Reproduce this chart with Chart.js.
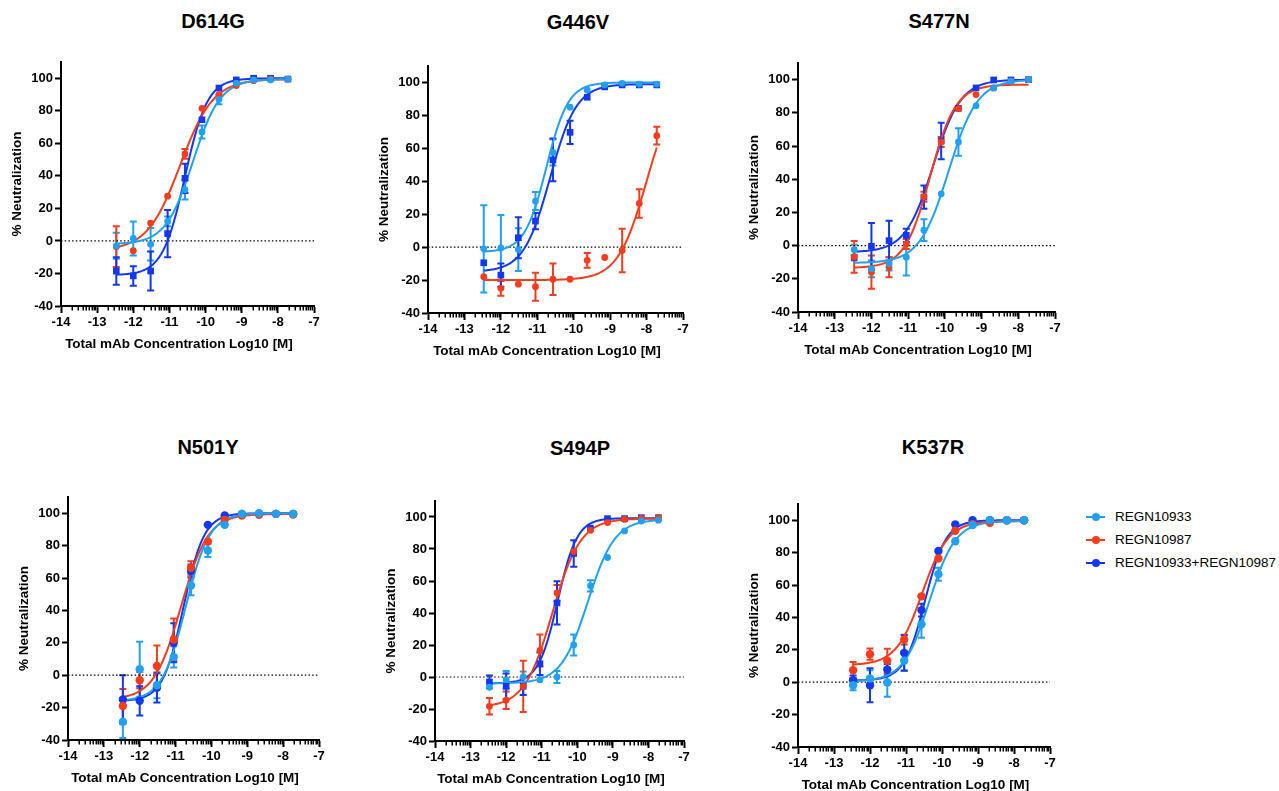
<!DOCTYPE html>
<html>
<head>
<meta charset="utf-8">
<script src="https://cdn.jsdelivr.net/npm/chart.js@4.4.1/dist/chart.umd.min.js"></script>
<style>
  body { margin:0; background:#fff; width:1279px; height:791px; position:relative; overflow:hidden;
         font-family:"Liberation Sans", Arial, sans-serif; color:#000; }
  canvas { position:absolute; }
  .ttl { position:absolute; font-weight:bold; font-size:20px; transform:translate(-50%,-50%); white-space:nowrap; }
  .xttl { position:absolute; font-weight:bold; font-size:13.5px; transform:translate(-50%,-50%); white-space:nowrap; }
  .legend { position:absolute; left:1086px; top:505px; font-size:13.5px; }
  .legend .row { height:23px; position:relative; padding-left:29px; line-height:23px; white-space:nowrap; }
  .legend .ln { position:absolute; left:0; top:11px; width:19px; height:2px; }
  .legend .dt { position:absolute; left:6px; top:8px; width:8px; height:8px; border-radius:50%; }
</style>
</head>
<body>
<script>
// log10 of molar concentration (3-fold dilutions)
const doses = [-12.47, -12.0, -11.52, -11.05, -10.57, -10.1, -9.63, -9.15, -8.67, -8.2, -7.72];
const xTicks = [-14, -13, -12, -11, -10, -9, -8, -7];
const yTicks = [-40, -20, 0, 20, 40, 60, 80, 100];
const variants = ["D614G", "G446V", "S477N", "N501Y", "S494P", "K537R"];
const seriesNames = ["REGN10933", "REGN10987", "REGN10933+REGN10987"];

// % neutralization, one row per variant
const regn10933 = [
  [-3, 1.5, -2, 12, 31.5, 67, 87, 97, 99, 99, 99.5],
  [-1, -0.5, -1.5, 28, 57.5, 85, 95.5, 98.5, 99.5, 99, 99],
  [-2.5, -14, -11, -7, 9.3, 31.2, 62.4, 84.2, 95, 99, 100],
  [-28.7, 3.7, -6.2, 11.3, 55.4, 77, 92.8, 99.6, 100, 99.6, 99.6],
  [-6.4, -1.7, 0, -1.7, 0, 20, 57, 74.7, 91.3, 97.5, 98],
  [-1.9, 2.3, -0.2, 13.2, 35.8, 66.7, 87, 97, 100, 100, 100]
];
const regn10933Sem = [
  [8, 10.5, 10, 3, 6, 4, 3, 1, 1, 1, 0.5],
  [26.5, 20, 13, 5.5, 8, 1, 1, 0.5, 0.5, 0.5, 0.5],
  [3, 5, 4, 11, 6.5, 1, 8.3, 1, 1, 0.5, 0.5],
  [10, 17, 8, 6.5, 6, 4, 1, 0.5, 0.5, 0.5, 0.5],
  [1, 5.5, 3.5, 2, 3.7, 6.5, 3.5, 0.5, 0.5, 0.5, 0.5],
  [3, 5, 8.8, 6, 8.4, 4, 1, 0.5, 0.5, 0.5, 0.5]
];
const regn10987 = [
  [-3.5, -6, 11, 27.5, 53.5, 81.5, 90, 95.5, 98.5, 99.5, 99.5],
  [-18, -25, -22.5, -24, -19.5, -19.5, -8, -6.3, -2, 26.5, 67.7],
  [-6.8, -16, -13, 1, 29.4, 62.4, 82.5, 91, 95, 99, 100],
  [-19, -3.1, 5.7, 22, 66.3, 82.5, 95.9, 98.6, 99, 99.6, 99.2],
  [-18.3, -14.5, -5.8, 16.6, 52.5, 78.4, 91.7, 96.5, 98.5, 99.2, 99.6],
  [7.4, 17.3, 13.2, 26.3, 53, 76.4, 93.5, 97.6, 98.4, 100, 100]
];
const regn10987Sem = [
  [12.5, 2, 1, 1, 3, 1, 1, 1, 0.5, 0.5, 0.5],
  [0.5, 4.5, 0.5, 8.5, 9.5, 0.5, 4.5, 0.5, 13.2, 8.7, 5.4],
  [9.5, 10, 6, 3, 3, 3, 1, 1, 1, 0.5, 0.5],
  [10.5, 5, 12.7, 13, 4, 1, 1, 0.5, 0.5, 0.5, 0.5],
  [5.2, 5.5, 16, 10, 5, 1, 1, 0.5, 0.5, 0.5, 0.5],
  [5, 3.5, 7.5, 3, 1, 1, 1, 0.5, 0.5, 0.5, 0.5]
];
const combo = [
  [-18.5, -21.5, -18.5, 4.5, 38.5, 74.5, 94, 99, 100, 100, 99.5],
  [-9.5, -17, 5.7, 15.8, 53, 69.7, 91, 97.3, 98.5, 98.5, 98.5],
  [-7.4, -0.4, 3, 6.2, 29.2, 63, 82.7, 95, 99.8, 99.8, 100],
  [-15, -15.8, -7.8, 20, 64.3, 92.8, 98.6, 99.6, 99.6, 99.6, 99.6],
  [-3.1, -5.8, -5.8, 8.3, 46.3, 77.2, 93, 99, 99, 99.6, 99.6],
  [1.2, -1.9, 7.8, 18, 44.5, 81, 97.4, 100, 100, 100, 100]
];
const comboSem = [
  [8.5, 6, 12, 14.5, 9, 3, 1, 0.5, 0.5, 0.5, 0.5],
  [2.5, 7, 12.5, 5, 13, 7, 3, 1, 0.5, 0.5, 0.5],
  [1, 14, 12, 4, 7, 11, 1, 1, 0.5, 0.5, 0.5],
  [15, 9, 9, 12, 4, 1, 0.5, 0.5, 0.5, 0.5, 0.5],
  [4, 8, 5.5, 7, 13.5, 8.3, 1, 0.5, 0.5, 0.5, 0.5],
  [3, 10.5, 3.5, 11, 4, 1, 0.5, 0.5, 0.5, 0.5, 0.5]
];

// fitted curves: [bottom, top, logIC50, hill slope]
const regn10933Fit = [
  [-2, 99.5, -10.35, 1.15], [-3, 100, -10.75, 1.45], [-10.5, 100, -9.9, 1.1],
  [-16, 100, -10.72, 1.3], [-4, 98.5, -9.7, 1.15], [0.5, 99.5, -10.35, 1.2]
];
const regn10987Fit = [
  [-6, 99.5, -10.7, 0.95], [-20, 100, -8.0, 1.1], [-13.5, 97, -10.4, 1.25],
  [-15, 99.5, -10.85, 1.15], [-19, 99, -10.7, 1.1], [10.5, 99.5, -10.55, 1.2]
];
const comboFit = [
  [-21, 100, -10.57, 1.4], [-15, 99, -10.65, 1.2], [-4, 100, -10.32, 1.15],
  [-16, 100, -10.78, 1.5], [-4, 99.3, -10.55, 1.6], [1, 100, -10.47, 1.5]
];

const colors = ["#22a0f2", "#f53d1e", "#1438f2"];
const FONT = '"Liberation Sans", Arial, sans-serif';
Chart.defaults.font.family = FONT;
Chart.defaults.color = "#000";

// plot area of every panel (page pixels) and title centre
const boxes = [
  {l: 61, r: 314, t: 62, b: 306, tx: 213, ty: 21, big: false},
  {l: 428, r: 683, t: 66, b: 313, tx: 578, ty: 22, big: false},
  {l: 798, r: 1055, t: 63, b: 312, tx: 939, ty: 21, big: false},
  {l: 68, r: 319, t: 497, b: 740, tx: 208, ty: 447, big: true},
  {l: 435, r: 684, t: 501, b: 741, tx: 580, ty: 448, big: false},
  {l: 798, r: 1050, t: 504, b: 747, tx: 933, ty: 447, big: true}
];
const YW = 52, PL = 4, PT = 10, PR = 14, XH = 30, PB = 2;

const fourPL = (p, x) => p[0] + (p[1] - p[0]) / (1 + Math.pow(10, (p[2] - x) * p[3]));
function fitCurve(p) {
  const pts = [];
  const a = doses[0], b = doses[doses.length - 1];
  for (let i = 0; i <= 150; i++) {
    const x = a + (b - a) * i / 150;
    pts.push({x: x, y: fourPL(p, x)});
  }
  return pts;
}

// error bars + log-style minor ticks on x axis
const extras = {
  id: "extras",
  beforeDatasetsDraw(chart) {
    const ctx = chart.ctx, ys = chart.scales.y;
    chart.data.datasets.forEach((ds, i) => {
      if (!ds.sem) return;
      const meta = chart.getDatasetMeta(i);
      const r = ds.pointRadius;
      ctx.save();
      ctx.strokeStyle = ds.backgroundColor;
      ctx.lineWidth = 2;
      meta.data.forEach((pt, j) => {
        const v = ds.data[j].y, s = ds.sem[j];
        const y1 = ys.getPixelForValue(v + s), y2 = ys.getPixelForValue(v - s);
        if ((y2 - y1) / 2 < r + 0.5) return;
        ctx.beginPath();
        ctx.moveTo(pt.x, y1); ctx.lineTo(pt.x, y2);
        ctx.moveTo(pt.x - 3.5, y1); ctx.lineTo(pt.x + 3.5, y1);
        ctx.moveTo(pt.x - 3.5, y2); ctx.lineTo(pt.x + 3.5, y2);
        ctx.stroke();
      });
      ctx.restore();
    });
  },
  afterDraw(chart) {
    const ctx = chart.ctx, xs = chart.scales.x, base = chart.chartArea.bottom;
    ctx.save();
    ctx.strokeStyle = "#000";
    ctx.lineWidth = 1.5;
    ctx.beginPath();
    for (let d = -14; d < -7; d++) {
      for (let k = 2; k <= 9; k++) {
        const px = Math.round(xs.getPixelForValue(d + Math.log10(k))) + 0.25;
        ctx.moveTo(px, base); ctx.lineTo(px, base + 4.5);
      }
    }
    ctx.stroke();
    ctx.restore();
  }
};

boxes.forEach((bx, n) => {
  const cv = document.createElement("canvas");
  const W = bx.r - bx.l + YW + PL + PR, H = bx.b - bx.t + PT + XH + PB;
  cv.width = W; cv.height = H;
  cv.style.left = (bx.l - YW - PL) + "px";
  cv.style.top = (bx.t - PT) + "px";
  document.body.appendChild(cv);

  const t = document.createElement("div");
  t.className = "ttl"; t.textContent = variants[n];
  t.style.left = bx.tx + "px"; t.style.top = bx.ty + "px";
  document.body.appendChild(t);

  const xt = document.createElement("div");
  xt.className = "xttl"; xt.textContent = "Total mAb Concentration Log10 [M]";
  xt.style.left = ((bx.l + bx.r) / 2 - 8.5) + "px"; xt.style.top = (bx.b + 37) + "px";
  document.body.appendChild(xt);

  const rc = bx.big ? 4.2 : 3.4;
  const pts = arr => arr.map((v, j) => ({x: doses[j], y: v}));
  const scatter = (vals, sem, c, style, rad) => ({
    type: "scatter", data: pts(vals), sem: sem,
    backgroundColor: c, borderColor: c, borderWidth: 0,
    pointStyle: style, pointRadius: rad, pointHoverRadius: rad, pointBorderWidth: 0
  });
  const line = (p, c) => ({
    type: "line", data: fitCurve(p), borderColor: c, borderWidth: 2,
    pointRadius: 0, fill: false, tension: 0
  });

  new Chart(cv, {
    data: {
      datasets: [
        scatter(regn10933[n], regn10933Sem[n], colors[0], "circle", rc),
        scatter(regn10987[n], regn10987Sem[n], colors[1], "circle", rc),
        bx.big ? scatter(combo[n], comboSem[n], colors[2], "circle", rc)
               : scatter(combo[n], comboSem[n], colors[2], "rect", 4.7),
        line(regn10933Fit[n], colors[0]),
        line(regn10987Fit[n], colors[1]),
        line(comboFit[n], colors[2]),
        {type: "line", data: [{x: -14, y: 0}, {x: -7, y: 0}], borderColor: "#000",
         borderWidth: 1.2, borderDash: [1.5, 2.2], pointRadius: 0}
      ]
    },
    options: {
      responsive: false,
      animation: false,
      devicePixelRatio: 1,
      layout: {padding: {left: PL, right: PR, top: PT, bottom: PB}},
      plugins: {legend: {display: false}, tooltip: {enabled: false}},
      scales: {
        x: {
          type: "linear", min: -14, max: -7, bounds: "data",
          afterBuildTicks: s => { s.ticks = xTicks.map(v => ({value: v})); },
          afterFit: s => { s.height = XH; },
          ticks: {font: {size: 13, weight: "bold"}, color: "#000", padding: 2, maxRotation: 0, autoSkip: false},
          grid: {drawOnChartArea: false, tickLength: 7, tickWidth: 2, tickColor: "#000"},
          border: {display: true, color: "#000", width: 2}
        },
        y: {
          type: "linear", min: -40, max: 110, bounds: "data",
          afterBuildTicks: s => { s.ticks = yTicks.map(v => ({value: v})); },
          afterFit: s => { s.width = YW; },
          ticks: {font: {size: 13, weight: "bold"}, color: "#000", padding: 2},
          grid: {drawOnChartArea: false, tickLength: 6, tickWidth: 2, tickColor: "#000"},
          border: {display: true, color: "#000", width: 2},
          title: {display: true, text: "% Neutralization", color: "#000",
                  font: {size: 13.5, weight: "bold"}, padding: 0}
        }
      }
    },
    plugins: [extras]
  });
});

// legend
const lg = document.createElement("div");
lg.className = "legend";
seriesNames.forEach((name, i) => {
  const row = document.createElement("div");
  row.className = "row";
  row.innerHTML = `<span class="ln" style="background:${colors[i]}"></span><span class="dt" style="background:${colors[i]}"></span>${name}`;
  lg.appendChild(row);
});
document.body.appendChild(lg);
</script>
</body>
</html>
